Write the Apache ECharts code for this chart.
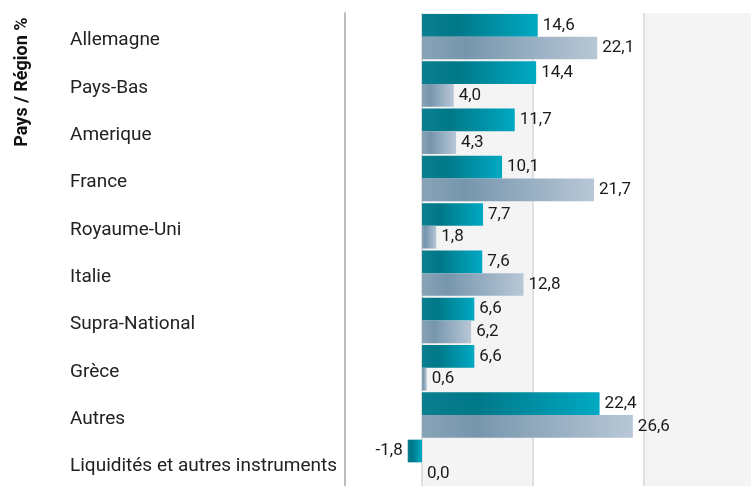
<!DOCTYPE html>
<html>
<head>
<meta charset="UTF-8">
<script src="https://cdn.jsdelivr.net/npm/echarts@6/dist/echarts.min.js"></script>
<style>
  html, body { margin: 0; padding: 0; background: #fff; }
  #chart { width: 751px; height: 486px; }
</style>
</head>
<body>
<div id="chart"></div>
<script>
// donnees
var pays = ['Allemagne', 'Pays-Bas', 'Amerique', 'France', 'Royaume-Uni', 'Italie',
  'Supra-National', 'Grèce', 'Autres', 'Liquidités et autres instruments'];
var fonds = [14.6, 14.4, 11.7, 10.1, 7.7, 7.6, 6.6, 6.6, 22.4, -1.8];
var indice = [22.1, 4.0, 4.3, 21.7, 1.8, 12.8, 6.2, 0.6, 26.6, 0.0];

function virgule(v) {
  return v.toFixed(1).replace('.', ',');
}

function points(arr) {
  return arr.map(function (v) {
    return { value: v, label: { position: v < 0 ? 'left' : 'right' } };
  });
}

var labelStyle = {
  show: true,
  distance: 5,
  fontFamily: 'Roboto',
  fontSize: 17,
  color: '#1a1a1a',
  formatter: function (p) { return virgule(p.value); }
};

var chart = echarts.init(document.getElementById('chart'));
var option = {
  animation: false,
  textStyle: { fontFamily: 'Roboto' },
  grid: { left: 311, right: 0, top: 13, bottom: -2, containLabel: false },
  graphic: [{
    type: 'text',
    x: 22,
    y: 82,
    rotation: Math.PI / 2,
    style: {
      text: 'Pays / Région %',
      font: 'bold 18px Roboto',
      fill: '#111',
      align: 'center',
      verticalAlign: 'middle'
    }
  }],
  xAxis: {
    type: 'value',
    min: -14,
    max: 41.5,
    interval: 14,
    axisLabel: { show: false },
    axisLine: { show: false },
    axisTick: { show: false },
    splitLine: {
      show: true,
      showMinLine: false,
      showMaxLine: false,
      lineStyle: { color: '#e0e0e0', width: 2 }
    },
    splitArea: {
      show: true,
      areaStyle: { color: ['#ffffff', '#f4f4f4'] }
    }
  },
  yAxis: {
    type: 'category',
    data: pays,
    inverse: true,
    offset: -34,
    axisLine: { show: true, onZero: false, lineStyle: { color: '#bdbdbd', width: 2 } },
    axisTick: { show: false },
    axisLabel: {
      align: 'left',
      margin: 275,
      formatter: function (v) { return '{p|' + v + '}'; },
      rich: {
        p: {
          padding: [8, 0, 0, 0],
          fontFamily: 'Roboto',
          fontSize: 19,
          color: '#222'
        }
      }
    }
  },
  series: [
    {
      name: 'Fonds',
      type: 'bar',
      data: points(fonds),
      barGap: '0%',
      barCategoryGap: '4%',
      itemStyle: {
        color: new echarts.graphic.LinearGradient(0, 0, 1, 0, [
          { offset: 0, color: '#0a7f90' },
          { offset: 0.3, color: '#007888' },
          { offset: 1, color: '#00a9c3' }
        ])
      },
      label: labelStyle
    },
    {
      name: 'Indice',
      type: 'bar',
      data: points(indice),
      itemStyle: {
        color: new echarts.graphic.LinearGradient(0, 0, 1, 0, [
          { offset: 0, color: '#88a3b7' },
          { offset: 0.25, color: '#7696ad' },
          { offset: 1, color: '#b8c7d6' }
        ])
      },
      label: labelStyle
    }
  ]
};
chart.setOption(option);
</script>
</body>
</html>
